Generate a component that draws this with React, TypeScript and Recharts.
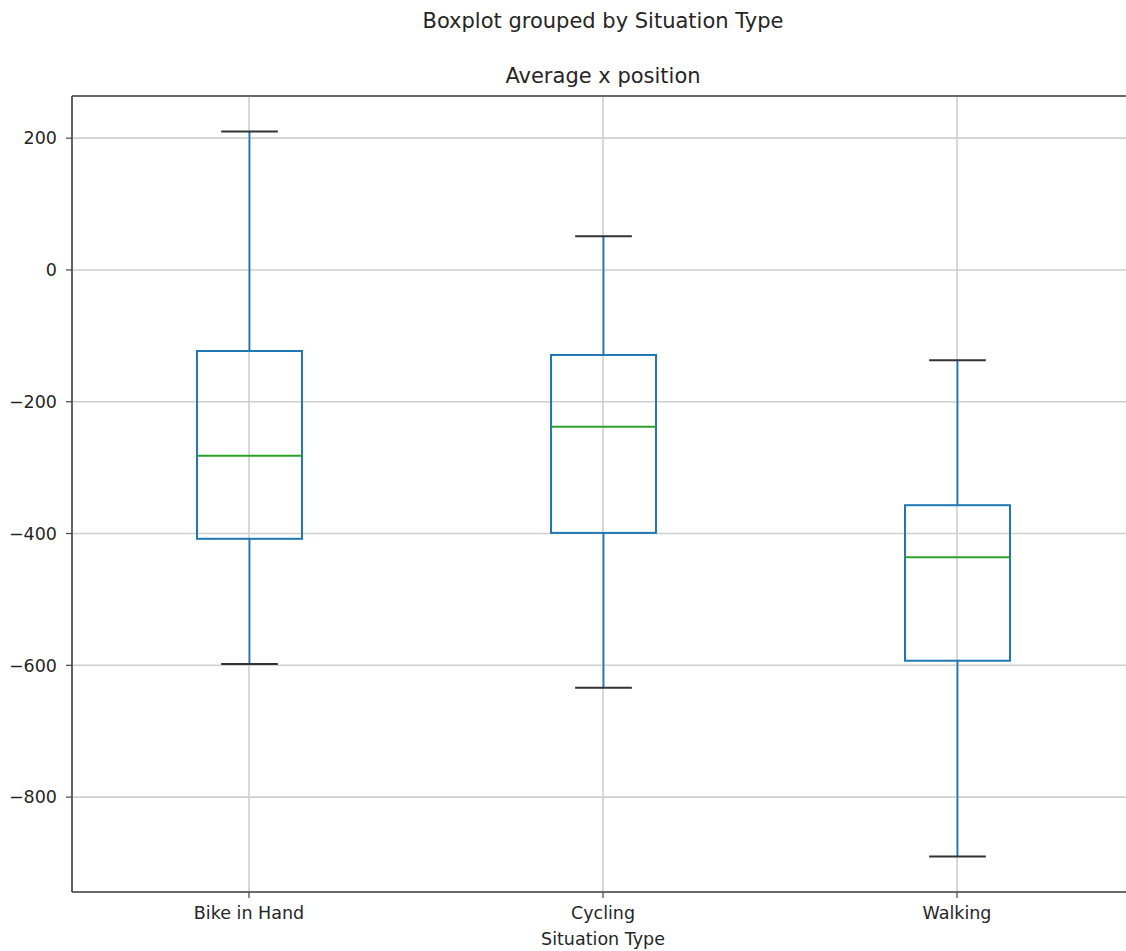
import { ComposedChart, Bar, XAxis, YAxis, CartesianGrid, ReferenceLine } from "recharts";

const situations = ["Bike in Hand", "Cycling", "Walking"];
const whiskerLow = [-598, -634, -890];
const quartile1 = [-408, -399, -593];
const medians = [-282, -238, -436];
const quartile3 = [-123, -129, -357];
const whiskerHigh = [210, 51, -137];
const yTicks = [-800, -600, -400, -200, 0, 200];
const yDomain = [-944, 264];

const data = situations.map((name, i) => ({
  name,
  lo: whiskerLow[i],
  q1: quartile1[i],
  med: medians[i],
  q3: quartile3[i],
  hi: whiskerHigh[i],
  range: [whiskerLow[i], whiskerHigh[i]],
}));

const FONT = "DejaVu Sans";
const BLUE = "#1f77b4";

// draws the whole box + whiskers inside the range bar
function BoxShape(props: any) {
  const { x, y, width, height, payload } = props;
  const top = Math.min(y, y + height);
  const h = Math.abs(height);
  const k = h / (payload.hi - payload.lo);
  const py = (v: number) => top + (payload.hi - v) * k;
  const cx = x + width / 2;
  const capHalf = width * 0.27;
  return (
    <g>
      <line x1={cx} x2={cx} y1={py(payload.hi)} y2={py(payload.q3)} stroke={BLUE} strokeWidth={1.8} />
      <line x1={cx} x2={cx} y1={py(payload.q1)} y2={py(payload.lo)} stroke={BLUE} strokeWidth={1.8} />
      <rect
        x={x}
        y={py(payload.q3)}
        width={width}
        height={py(payload.q1) - py(payload.q3)}
        fill="none"
        stroke={BLUE}
        strokeWidth={2}
      />
      <line x1={x} x2={x + width} y1={py(payload.med)} y2={py(payload.med)} stroke="#2ca02c" strokeWidth={2} />
      <line x1={cx - capHalf} x2={cx + capHalf} y1={py(payload.hi)} y2={py(payload.hi)} stroke="#333" strokeWidth={2} />
      <line x1={cx - capHalf} x2={cx + capHalf} y1={py(payload.lo)} y2={py(payload.lo)} stroke="#333" strokeWidth={2} />
    </g>
  );
}

const textStyle = { position: "absolute" as const, fontFamily: FONT, color: "#262626", textAlign: "center" as const };

export default function App() {
  return (
    <div style={{ position: "absolute", left: 0, top: 0, width: 1126, height: 951, overflow: "hidden", background: "#fff" }}>
      <div style={{ ...textStyle, left: 103, width: 1000, top: 9, fontSize: 21, lineHeight: "24px" }}>
        Boxplot grouped by Situation Type
      </div>
      <div style={{ ...textStyle, left: 103, width: 1000, top: 64, fontSize: 21, lineHeight: "24px" }}>
        Average x position
      </div>
      <ComposedChart
        width={1140}
        height={951}
        data={data}
        margin={{ top: 96, right: 6, bottom: 19, left: 0 }}
        style={{ fontFamily: FONT }}
      >
        <CartesianGrid stroke="#cfcfcf" strokeWidth={1.6} />
        <XAxis
          dataKey="name"
          type="category"
          height={40}
          axisLine={{ stroke: "#444", strokeWidth: 1.6 }}
          tickLine={{ stroke: "#444", strokeWidth: 1.2 }}
          tickSize={6}
          tickMargin={9}
          tick={{ fill: "#262626", fontSize: 17.5 }}
        />
        <YAxis
          type="number"
          domain={yDomain}
          ticks={yTicks}
          width={72}
          allowDataOverflow
          axisLine={{ stroke: "#444", strokeWidth: 1.6 }}
          tickLine={{ stroke: "#444", strokeWidth: 1.2 }}
          tickSize={6}
          tickMargin={9}
          tick={{ fill: "#262626", fontSize: 17.5 }}
          tickFormatter={(v: number) => String(v).replace("-", "\u2212")}
        />
        <ReferenceLine y={yDomain[1]} stroke="#444" strokeWidth={1.6} />
        <Bar dataKey="range" barSize={105} shape={BoxShape} isAnimationActive={false} />
      </ComposedChart>
      <div style={{ ...textStyle, left: 353, width: 500, top: 928, fontSize: 17.5, lineHeight: "22px" }}>
        Situation Type
      </div>
    </div>
  );
}
